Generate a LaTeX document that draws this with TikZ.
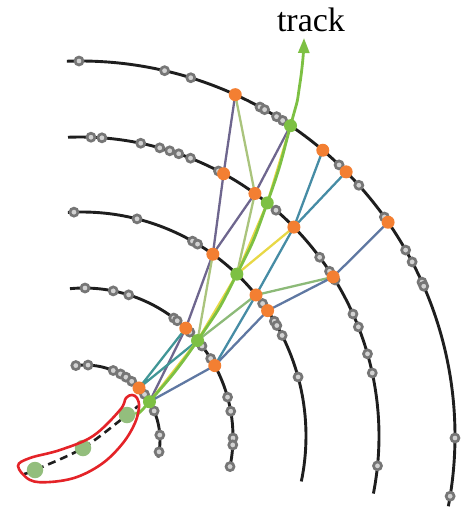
\documentclass[tikz,border=0pt]{standalone}
\usepackage{fontspec}
\setmainfont{Liberation Serif}
\usetikzlibrary{calc,arrows.meta}
\pgfdeclarelayer{bg}
\pgfsetlayers{bg,main}
\definecolor{arcc}{RGB}{30,30,30}
\definecolor{hitring}{RGB}{118,118,118}
\definecolor{hitfill}{RGB}{210,210,210}
\definecolor{corange}{RGB}{243,127,50}
\definecolor{cgreen}{RGB}{125,192,67}
\definecolor{cseed}{RGB}{147,190,125}
\definecolor{cred}{RGB}{228,35,40}
\definecolor{cpurple}{RGB}{110,102,142}
\definecolor{colive}{RGB}{170,196,125}
\definecolor{cyellow}{RGB}{232,216,70}
\definecolor{clgreen}{RGB}{140,186,120}
\definecolor{cteal}{RGB}{70,140,165}
\definecolor{cteal2}{RGB}{65,150,150}
\definecolor{cblue}{RGB}{95,120,162}
\begin{document}
\begin{tikzpicture}[x=1pt,y=-1pt,
  arcline/.style={draw=arcc,line width=2.9pt},
  hit/.style={circle,inner sep=0pt,minimum size=8pt,line width=2.7pt,draw=hitring,fill=hitfill},
  onode/.style={circle,inner sep=0pt,minimum size=13pt,fill=corange},
  gnode/.style={circle,inner sep=0pt,minimum size=13pt,fill=cgreen},
  seed/.style={circle,inner sep=0pt,minimum size=16.5pt,fill=cseed},
  link/.style={line width=2.3pt},
  trackline/.style={draw=cgreen,line width=2.8pt},
  seedline/.style={draw=arcc,line width=2.6pt,dash pattern=on 8pt off 5pt},
  lasso/.style={draw=cred,line width=2.6pt}]
\useasboundingbox (0,0) rectangle (464,513);
% arc centres
\coordinate (cA) at (80,436);
\coordinate (cB) at (80,436);
\coordinate (cC) at (82,436);
\coordinate (cD) at (84,437);
\coordinate (cE) at (85,440);
% orange / green hit positions on the layers
\coordinate (O1) at ($(cA)!375pt!(236,93)$);
\coordinate (G1) at ($(cA)!375pt!(291,125)$);
\coordinate (O2) at ($(cA)!375pt!(323,150)$);
\coordinate (O3) at ($(cA)!375pt!(346,172)$);
\coordinate (O4) at ($(cA)!375pt!(387,223)$);
\coordinate (O5) at ($(cB)!299pt!(224,173)$);
\coordinate (O6) at ($(cB)!299pt!(256,192)$);
\coordinate (G2) at ($(cB)!299pt!(268,202)$);
\coordinate (O7) at ($(cB)!299pt!(294,227)$);
\coordinate (O8) at ($(cB)!299pt!(333,277)$);
\coordinate (O9) at ($(cC)!224pt!(213,254)$);
\coordinate (G3) at ($(cC)!224pt!(237,274)$);
\coordinate (O10) at ($(cC)!224pt!(256,295)$);
\coordinate (O11) at ($(cC)!224pt!(267,311)$);
\coordinate (O12) at ($(cD)!149pt!(185,329)$);
\coordinate (G4) at ($(cD)!149pt!(197,341)$);
\coordinate (O13) at ($(cD)!149pt!(214,366)$);
\coordinate (O14) at ($(cE)!75pt!(139,388)$);
\coordinate (G5) at ($(cE)!75pt!(149,402)$);
\coordinate (T0) at (137,412);
\coordinate (T1) at (300,83);
\coordinate (T2) at (304,38);
\coordinate (S0) at (24,474);
\coordinate (S4) at (138,406);
\begin{pgfonlayer}{bg}
\draw[arcline] (cA) ++(-92:375) arc[start angle=-92,end angle=10.8,radius=375];
\draw[arcline] (cB) ++(-92.3:299) arc[start angle=-92.3,end angle=11.1,radius=299];
\draw[arcline] (cC) ++(-93.6:224) arc[start angle=-93.6,end angle=11.7,radius=224];
\draw[arcline] (cD) ++(-95.4:149) arc[start angle=-95.4,end angle=12.6,radius=149];
\draw[arcline] (cE) ++(-99.2:75) arc[start angle=-99.2,end angle=13.5,radius=75];
% edges
\draw[link,cpurple] (O1) -- (O5) (O5) -- (O9) (G1) -- (O6) (O6) -- (O9) (O9) -- (O12) (O12) -- (G5);
\draw[link,colive] (O1) -- (O6) (O6) -- (G3) (O9) -- (G4);
\draw[link,clgreen] (O8) -- (O10) (O10) -- (G4);
\draw[link,cteal] (O7) -- (O2) (O7) -- (O3) (O7) -- (O10) (O10) -- (O13);
\draw[link,cteal2] (O12) -- (O14) (G4) -- (O14);
\draw[link,cblue] (O8) -- (O4) (O11) -- (O8) (O11) -- (O13) (O13) -- (G5);
\draw[link,cyellow] (G3) -- (O7);
\draw[link,cyellow,xshift=-2.6pt] (G5) -- (G4) -- (G3) -- (G2) -- (G1);
\draw[trackline,-{Triangle[length=15pt,width=11pt]}] plot[smooth,tension=1] coordinates {(T0) (G5) (G4) (G3) (G2) (G1) (T1) (T2)};
\end{pgfonlayer}
% grey hits
\foreach \x/\y [count=\i] in {79/61,165/69,191/77,260/107,265/109,277/116,283/120,339/165,358/186,383/218,404/251,410/263,420/283,422/287,453/438,449/496}
  \node[hit] (hA\i) at ($(cA)!375pt!(\x,\y)$) {};
\foreach \x/\y [count=\i] in {91/137,102/137,141/142,160/147,170/150,179/153,191/157,219/170,277/209,320/257,330/271,335/280,353/314,358/327,367/354,372/373,379/466}
  \node[hit] (hB\i) at ($(cB)!299pt!(\x,\y)$) {};
\foreach \x/\y [count=\i] in {74/213,137/219,192/242,197/245,262/304,273/322,276/326,281/336,298/377}
  \node[hit] (hC\i) at ($(cC)!224pt!(\x,\y)$) {};
\foreach \x/\y [count=\i] in {85/290,113/292,128/297,173/319,177/321,189/333,202/346,210/359,228/397,232/411,234/438,234/445,232/467}
  \node[hit] (hD\i) at ($(cD)!149pt!(\x,\y)$) {};
\foreach \x/\y [count=\i] in {76/367,88/366,113/371,121/373,126/377,132/381,145/394,154/411,160/435,160/452}
  \node[hit] (hE\i) at ($(cE)!75pt!(\x,\y)$) {};
% coloured hits
\foreach \n in {O1,O2,O3,O4,O5,O6,O7,O8,O9,O10,O11,O12,O13,O14}
  \node[onode] (n\n) at (\n) {};
\foreach \n in {G1,G2,G3,G4,G5}
  \node[gnode] (n\n) at (\n) {};
% seed
\coordinate (S1) at (35,470);
\coordinate (S2) at (83,448);
\coordinate (S3) at (127,415);
\draw[seedline] plot[smooth] coordinates {(S0) (S1) (S2) (S3) (S4)};
\node[seed] (s1) at (S1) {};
\node[seed] (s2) at (S2) {};
\node[seed] (s3) at (S3) {};
\draw[lasso] plot[smooth cycle,tension=0.6] coordinates {(18,466) (30,458) (60,450) (93,436) (120,410) (126,398) (132,395) (137,398) (139,407) (135,423) (123,443) (103,463) (77,477) (50,482) (30,480)};
\node[font=\fontsize{34}{38}\selectfont,anchor=base,inner sep=0pt] (lbl) at (311,32) {track};
\end{tikzpicture}
\end{document}
